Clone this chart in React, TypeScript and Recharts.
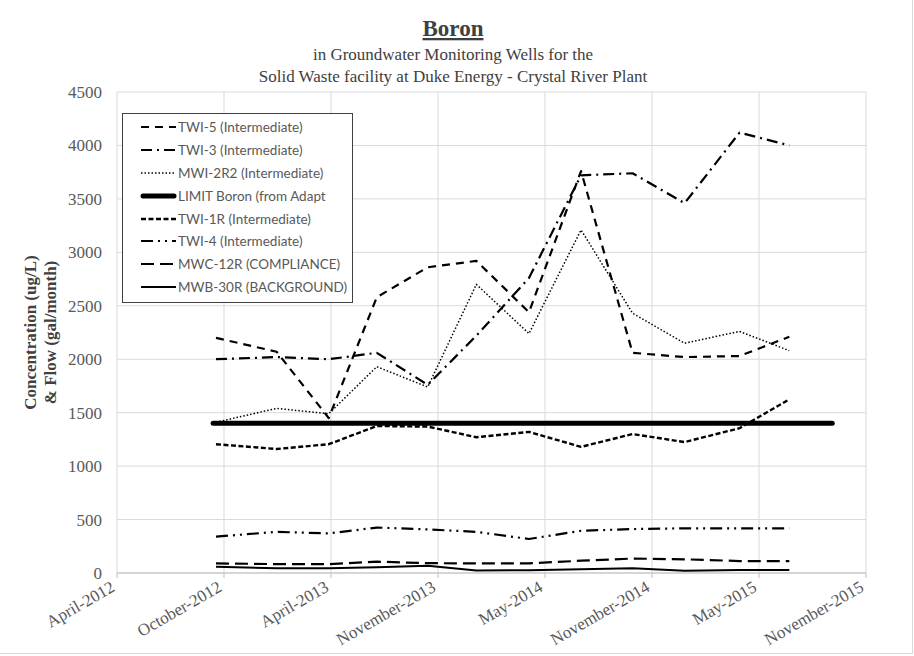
import { LineChart, Line, XAxis, YAxis, CartesianGrid, Legend } from 'recharts';

// quarterly sampling dates
const sampleDates = [
  '2012-10-10', '2013-01-24', '2013-04-25', '2013-07-18', '2013-10-15', '2014-01-08',
  '2014-04-10', '2014-07-10', '2014-10-08', '2015-01-07', '2015-04-13', '2015-07-09',
];

const twi5 = [2200, 2070, 1450, 2580, 2860, 2920, 2440, 3760, 2060, 2020, 2030, 2210];
const twi3 = [2000, 2020, 2000, 2060, 1760, 2220, 2760, 3720, 3740, 3460, 4120, 4000];
const mwi2r2 = [1410, 1540, 1490, 1930, 1740, 2700, 2240, 3210, 2430, 2150, 2260, 2080];
const twi1r = [1205, 1160, 1205, 1375, 1370, 1270, 1320, 1180, 1300, 1225, 1355, 1625];
const twi4 = [340, 385, 370, 425, 408, 385, 318, 395, 411, 418, 418, 418];
const mwc12r = [90, 83, 83, 106, 92, 90, 90, 115, 135, 128, 112, 112];
const mwb30r = [59, 44, 44, 53, 68, 24, 26, 34, 44, 22, 28, 28];

const limitDates = ['2012-10-05', '2015-09-22'];
const limitValues = [1400, 1400];

const xTickLabels = [
  'April-2012', 'October-2012', 'April-2013', 'November-2013',
  'May-2014', 'November-2014', 'May-2015', 'November-2015',
];
const yTicks = [0, 500, 1000, 1500, 2000, 2500, 3000, 3500, 4000, 4500];

const SERIF = '"Times New Roman", "Liberation Serif", serif';
const SANS = 'Lato, Carlito, "Liberation Sans", sans-serif';
const DAY = 86400000;
const axisStart = Date.UTC(2012, 3, 20);
const tickStepDays = 187;
const xTicks = xTickLabels.map((_, i) => axisStart + i * tickStepDays * DAY);

const toTime = (d: string) => Date.parse(d + 'T00:00:00Z');

const series = [
  { key: 'twi5', name: 'TWI-5 (Intermediate)', values: twi5, dash: '8 6', width: 2.2 },
  { key: 'twi3', name: 'TWI-3 (Intermediate)', values: twi3, dash: '11 5 2 5', width: 2.2 },
  { key: 'mwi2r2', name: 'MWI-2R2 (Intermediate)', values: mwi2r2, dash: '1.5 2', width: 1.5 },
  { key: 'limit', name: 'LIMIT Boron (from Adapt', values: limitValues, dash: undefined, width: 5 },
  { key: 'twi1r', name: 'TWI-1R (Intermediate)', values: twi1r, dash: '5 2.5', width: 2.4 },
  { key: 'twi4', name: 'TWI-4 (Intermediate)', values: twi4, dash: '12 5 2 5 2 5', width: 2.2 },
  { key: 'mwc12r', name: 'MWC-12R (COMPLIANCE)', values: mwc12r, dash: '13 6', width: 2.2 },
  { key: 'mwb30r', name: 'MWB-30R (BACKGROUND)', values: mwb30r, dash: undefined, width: 2 },
];

const rows = sampleDates.map((d, i) => {
  const row: Record<string, number> = { t: toTime(d) };
  series.forEach((s) => {
    if (s.key !== 'limit') row[s.key] = s.values[i];
  });
  return row;
});

const limitRows = limitDates.map((d, i) => ({ t: toTime(d), limit: limitValues[i] }));

function XTick(props: any) {
  const { x, y, payload } = props;
  const label = xTickLabels[xTicks.indexOf(payload.value)];
  const ax = x - 4;
  const ay = y + 5;
  return (
    <text
      x={ax}
      y={ay}
      transform={`rotate(-30 ${ax} ${ay})`}
      textAnchor="end"
      dy="0.35em"
      fill="#595959"
      fontSize={17}
      fontFamily={SERIF}
    >
      {label}
    </text>
  );
}

function YTitle(props: any) {
  const vb = props.viewBox || { y: 92, height: 481 };
  const cy = vb.y + vb.height / 2;
  return (
    <text transform="rotate(-90)" textAnchor="middle" fill="#404040" fontSize={17} fontWeight="bold" fontFamily={SERIF}>
      <tspan x={-cy} y={36}>Concentration (ug/L)</tspan>
      <tspan x={-cy} y={56}>&amp; Flow (gal/month)</tspan>
    </text>
  );
}

function LegendBox() {
  return (
    <div
      style={{
        width: 229,
        height: 186,
        border: '1px solid #404040',
        background: '#fff',
        paddingTop: 2,
        boxSizing: 'content-box',
      }}
    >
      {series.map((s) => (
        <div key={s.key} style={{ display: 'flex', alignItems: 'center', height: 22.8 }}>
          <svg width={55} height={12} style={{ flex: 'none' }}>
            <line
              x1={s.key === 'limit' ? 20 : 18}
              x2={s.key === 'limit' ? 51 : 53}
              y1={6}
              y2={6}
              stroke="#000"
              strokeWidth={s.width}
              strokeDasharray={s.dash}
              strokeLinecap={s.key === 'limit' ? 'round' : 'butt'}
            />
          </svg>
          <span style={{ fontFamily: SANS, fontSize: 13.5, color: '#595959', whiteSpace: 'nowrap' }}>{s.name}</span>
        </div>
      ))}
    </div>
  );
}

export default function App() {
  return (
    <div style={{ position: 'absolute', left: 0, top: 0, width: 914, height: 656, background: '#fff' }}>
      <div
        style={{
          position: 'absolute',
          left: 0,
          top: 0,
          width: 912,
          height: 653,
          borderRight: '1px solid #d9d9d9',
          borderBottom: '1px solid #d9d9d9',
        }}
      />
      <LineChart
        width={914}
        height={656}
        data={rows}
        margin={{ top: 92, right: 48, bottom: 0, left: 0 }}
      >
        <CartesianGrid stroke="#d9d9d9" strokeWidth={1} />
        <XAxis
          dataKey="t"
          type="number"
          domain={[xTicks[0], xTicks[xTicks.length - 1]]}
          ticks={xTicks}
          interval={0}
          allowDataOverflow
          height={83}
          tickSize={5}
          tickMargin={2}
          axisLine={{ stroke: '#bfbfbf' }}
          tickLine={{ stroke: '#bfbfbf' }}
          tick={<XTick />}
        />
        <YAxis
          type="number"
          domain={[0, 4500]}
          ticks={yTicks}
          interval={0}
          width={117}
          axisLine={false}
          tickLine={false}
          tickSize={0}
          tickMargin={15}
          tick={{ fill: '#595959', fontSize: 17, fontFamily: SERIF }}
          label={{ content: (p: any) => <YTitle {...p} /> }}
        />
        <Legend
          layout="vertical"
          align="center"
          verticalAlign="middle"
          content={() => <LegendBox />}
          wrapperStyle={{ left: 122, top: 113, width: 231, height: 189 }}
        />
        {series.map((s) =>
          s.key === 'limit' ? (
            <Line
              key={s.key}
              data={limitRows}
              dataKey="limit"
              name={s.name}
              stroke="#000"
              strokeWidth={s.width}
              strokeLinecap="round"
              dot={false}
              activeDot={false}
              isAnimationActive={false}
            />
          ) : (
            <Line
              key={s.key}
              dataKey={s.key}
              name={s.name}
              type="linear"
              stroke="#000"
              strokeWidth={s.width}
              strokeDasharray={s.dash}
              strokeLinejoin="round"
              dot={false}
              activeDot={false}
              isAnimationActive={false}
            />
          )
        )}
      </LineChart>
      <svg
        width={914}
        height={92}
        style={{ position: 'absolute', left: 0, top: 0, pointerEvents: 'none' }}
      >
        <text x={453} y={36} textAnchor="middle" fill="#404040" fontSize={23} fontWeight="bold" fontFamily={SERIF} textDecoration="underline">
          Boron
        </text>
        <text x={453} y={60} textAnchor="middle" fill="#404040" fontSize={17} fontFamily={SERIF}>
          in Groundwater Monitoring Wells for the
        </text>
        <text x={453} y={82} textAnchor="middle" fill="#404040" fontSize={17} fontFamily={SERIF}>
          Solid Waste facility at Duke Energy - Crystal River Plant
        </text>
      </svg>
    </div>
  );
}
